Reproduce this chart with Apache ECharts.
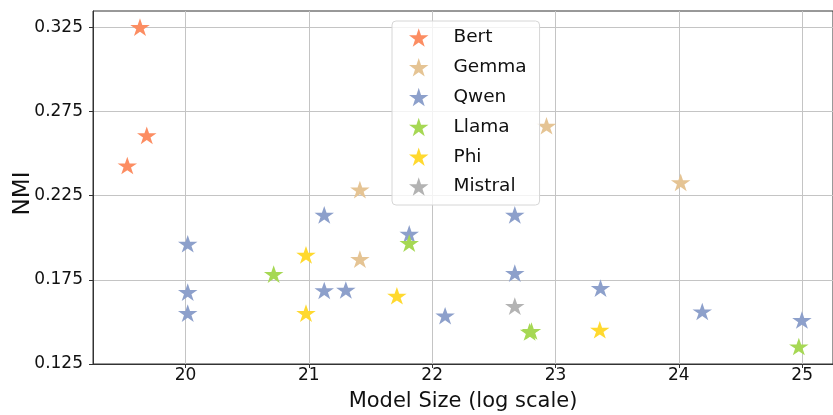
<!DOCTYPE html>
<html><head><meta charset="utf-8">
<script src="https://cdn.jsdelivr.net/npm/echarts@6/dist/echarts.min.js"></script>
<style>html,body{margin:0;padding:0;background:#fff}#c{width:833px;height:415px}</style>
</head><body><div id="c"></div>
<script>
// ---- data ----
const seriesNames = ['Bert', 'Gemma', 'Qwen', 'Llama', 'Phi', 'Mistral'];
const bert = [[19.631, 0.3251], [19.686, 0.2608], [19.528, 0.2429]];
const gemma = [[21.414, 0.2286], [21.414, 0.1873], [22.927, 0.2665], [24.015, 0.2329]];
const qwen = [[20.018, 0.1964], [20.018, 0.1677], [20.018, 0.1552], [21.125, 0.2136], [21.125, 0.1687],
  [21.300, 0.1690], [21.814, 0.2023], [22.105, 0.1537], [22.670, 0.2136], [22.670, 0.1790],
  [23.365, 0.1701], [24.190, 0.1562], [24.998, 0.1511]];
const llama = [[20.715, 0.1784], [21.814, 0.1968], [22.790, 0.1441], [22.805, 0.1446], [24.973, 0.1354]];
const phi = [[20.977, 0.1898], [20.977, 0.1552], [21.714, 0.1655], [23.359, 0.1453]];
const mistral = [[22.670, 0.1594]];
const xTicks = [20, 21, 22, 23, 24, 25];
const yTicks = [0.125, 0.175, 0.225, 0.275, 0.325];
const colors = ['#fc8d62', '#e5c494', '#8da0cb', '#a6d854', '#ffd92f', '#b3b3b3'];

// ---- star marker shape ----
function starPath() {
  const pts = [];
  for (let i = 0; i < 10; i++) {
    const r = i % 2 === 0 ? 1 : 0.381966;
    const a = -Math.PI / 2 + i * Math.PI / 5;
    pts.push((r * Math.cos(a)).toFixed(4) + ' ' + (r * Math.sin(a)).toFixed(4));
  }
  return 'path://M' + pts.join(' L') + ' Z';
}
const STAR = starPath();
const FONT = 'DejaVu Sans';

const allData = [bert, gemma, qwen, llama, phi, mistral];
const series = seriesNames.map((n, i) => ({
  name: n,
  type: 'scatter',
  data: allData[i],
  symbol: STAR,
  symbolKeepAspect: true,
  symbolSize: [19.5, 18.5],
  itemStyle: { color: colors[i], opacity: 1 },
  emphasis: { disabled: true }
}));

const chart = echarts.init(document.getElementById('c'), null, { renderer: 'canvas' });
chart.setOption({
  animation: false,
  color: colors,
  textStyle: { fontFamily: FONT },
  grid: { left: 93, right: 0, top: 11, bottom: 51, containLabel: false, outerBoundsMode: 'none',
    show: true, borderColor: '#333', borderWidth: 1, backgroundColor: 'transparent' },
  legend: {
    data: seriesNames.map(n => ({ name: n, icon: STAR })),
    orient: 'vertical',
    left: 392, top: 21,
    itemWidth: 19.5, itemHeight: 18.5, itemGap: 10.8,
    padding: [7, 13, 9, 17],
    selectedMode: false,
    backgroundColor: 'rgba(255,255,255,0.8)',
    borderColor: '#d6d6d6', borderWidth: 1, borderRadius: 4,
    textStyle: { fontFamily: FONT, fontSize: 18.5, color: '#111', padding: [0, 0, 0, 20] }
  },
  xAxis: {
    type: 'value', min: 19.25, max: 25.25,
    name: 'Model Size (log scale)', nameLocation: 'middle', nameGap: 27, nameMoveOverlap: false,
    nameTextStyle: { fontFamily: FONT, fontSize: 21, color: '#111' },
    axisLine: { show: true, onZero: false, lineStyle: { color: '#333', width: 1 } },
    axisTick: { show: true, length: 4, customValues: xTicks, lineStyle: { color: '#333' } },
    axisLabel: { customValues: xTicks, margin: 3, fontFamily: FONT, fontSize: 17, color: '#111', formatter: v => String(v) },
    splitLine: { show: true, lineStyle: { color: '#c4c4c4', width: 1 } }
  },
  yAxis: {
    type: 'value', min: 0.125, max: 0.3347,
    name: 'NMI', nameLocation: 'middle', nameGap: 58, nameMoveOverlap: false,
    nameTextStyle: { fontFamily: FONT, fontSize: 23, color: '#111', padding: [0, 12, 0, 0] },
    axisLine: { show: true, onZero: false, lineStyle: { color: '#333', width: 1 } },
    axisTick: { show: true, length: 4, customValues: yTicks, lineStyle: { color: '#333' } },
    axisLabel: { customValues: yTicks, margin: 10, fontFamily: FONT, fontSize: 17, color: '#111', formatter: v => v.toFixed(3) },
    splitLine: { show: true, lineStyle: { color: '#c4c4c4', width: 1 } }
  },
  series: series
});
</script></body></html>
